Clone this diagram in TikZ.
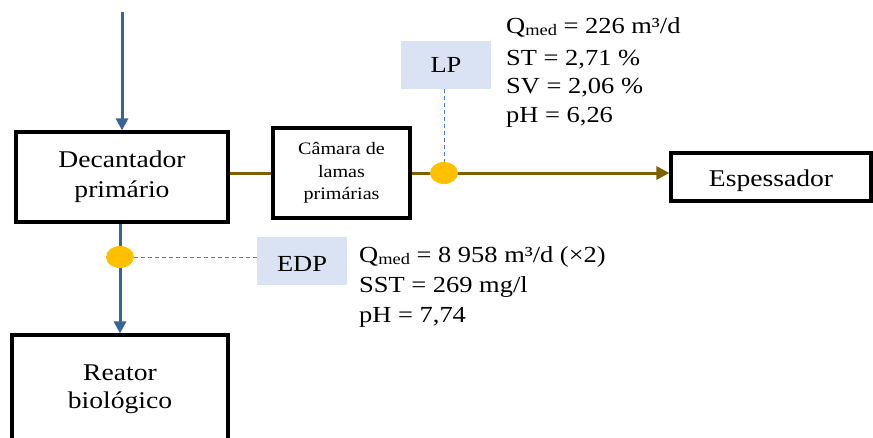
\documentclass[tikz,border=0pt]{standalone}
\usepackage{fontspec}
\setmainfont[FakeStretch=1.15]{Liberation Serif}
\usetikzlibrary{arrows.meta,shapes.geometric}

\definecolor{flowblue}{HTML}{3A6497}
\definecolor{sludgebrown}{HTML}{7F6000}
\definecolor{dotorange}{HTML}{FFC000}
\definecolor{tagblue}{HTML}{DAE3F3}
\definecolor{probeblue}{HTML}{4A7CC6}

% small lowered text for indices such as Q_med
\newcommand{\lowtxt}[1]{\raisebox{-2pt}{\fontsize{16}{16}\selectfont #1}}
% shift a label down without changing the size the node sees
\newcommand{\dropby}[2]{\raisebox{-#1}[\height][\depth]{#2}}

\begin{document}
\begin{tikzpicture}[x=1pt,y=-1pt,
  unit/.style={draw=black, line width=3.2pt, fill=white, align=center, inner sep=0pt},
  tag/.style={fill=tagblue, minimum width=90pt, minimum height=48pt, inner sep=0pt,
              font=\fontsize{23}{23}\selectfont},
  dot/.style={ellipse, fill=dotorange, minimum width=28pt, minimum height=22pt, inner sep=0pt},
  water/.style={draw=flowblue, line width=3pt, -{Triangle[width=12pt,length=12pt]}},
  sludge/.style={draw=sludgebrown, line width=3pt},
  probe/.style={draw=probeblue, line width=0.9pt, dash pattern=on 4pt off 3pt},
  data/.style={anchor=base west, inner sep=0pt, font=\fontsize{23}{23}\selectfont}
]
\useasboundingbox (0,0) rectangle (873,437);
\clip (0,0) rectangle (873,437);

% process units
\node[unit, minimum width=212pt, minimum height=90pt, font=\fontsize{24}{30}\selectfont]
  (dec) at (122,177) {Decantador\\primário};
\node[unit, minimum width=137pt, minimum height=90pt, font=\fontsize{17.5}{22.5}\selectfont]
  (cam) at (341.5,173) {Câmara de\\lamas\\primárias};
\node[unit, minimum width=200pt, minimum height=48pt, font=\fontsize{24}{24}\selectfont]
  (esp) at (771,177) {\dropby{4pt}{Espessador}};
\node[unit, minimum width=216pt, minimum height=108pt, font=\fontsize{24}{28}\selectfont]
  (rea) at (120,389) {Reator\\biológico};

% sampling point tags
\node[tag] (lp) at (446,65) {LP};
\node[tag] (edp) at (302,261) {\dropby{3pt}{EDP}};

% sampling points
\coordinate (lpdotc) at (444,173);
\coordinate (edpdotc) at (120,257);

% flows
\coordinate (feed) at (122,12);
\draw[water] (feed) -- (dec.north);
\draw[water] (dec.south -| rea.north) -- (rea.north);
\draw[sludge] (dec.east |- cam.west) -- (cam.west);
\draw[sludge, -{Triangle[width=13pt,length=13pt]}] (cam.east) -- (cam.east -| esp.west);

\node[dot] (lpdot) at (lpdotc) {};
\node[dot] (edpdot) at (edpdotc) {};

% probe leaders
\draw[probe] (lp.south -| lpdot) -- (lpdot.north);
\draw[probe] (edpdot.east) -- (edp.west |- edpdot);

% measured values
\node[data] (lpq)   at (506,33)  {Q\lowtxt{med} = 226 m³/d};
\node[data] (lpst)  at (506,65)  {ST = 2,71 \%};
\node[data] (lpsv)  at (506,93)  {SV = 2,06 \%};
\node[data] (lpph)  at (506,122) {pH = 6,26};
\node[data] (edpq)  at (359,262) {Q\lowtxt{med} = 8 958 m³/d (×2)};
\node[data] (edpss) at (359,292) {SST = 269 mg/l};
\node[data] (edpph) at (359,322) {pH = 7,74};
\end{tikzpicture}
\end{document}
